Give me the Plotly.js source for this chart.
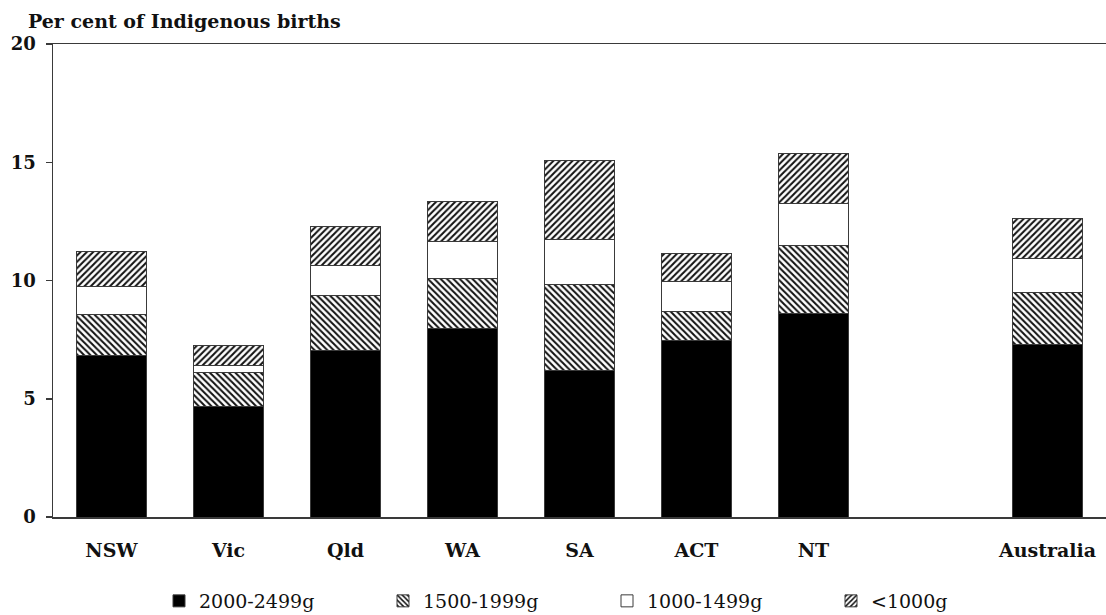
<!DOCTYPE html>
<html>
<head>
<meta charset="utf-8">
<script src="https://cdn.plot.ly/plotly-3.0.1.min.js"></script>
<style>html,body{margin:0;padding:0;background:#fff;}#chart{width:1106px;height:615px;}</style>
</head>
<body>
<div id="chart"></div>
<script>
// Data (per cent of Indigenous births)
var categories = ['NSW', 'Vic', 'Qld', 'WA', 'SA', 'ACT', 'NT', 'Australia'];
var axisCategories = ['NSW', 'Vic', 'Qld', 'WA', 'SA', 'ACT', 'NT', ' ', 'Australia'];
var w2000_2499 = [6.84, 4.66, 7.05, 7.97, 6.21, 7.45, 8.61, 7.30];
var w1500_1999 = [1.72, 1.43, 2.33, 2.12, 3.60, 1.25, 2.89, 2.20];
var w1000_1499 = [1.20, 0.33, 1.27, 1.55, 1.93, 1.25, 1.76, 1.44];
var wUnder1000 = [1.45, 0.85, 1.62, 1.69, 3.33, 1.20, 2.09, 1.69];
var seriesNames = ['2000-2499g', '1500-1999g', '1000-1499g', '<1000g'];
var yTicks = [0, 5, 10, 15, 20];

var serif = 'DejaVu Serif, Liberation Serif, serif';
var lineCol = '#3a3a3a';

function barTrace(name, vals, fill, pattern) {
  var m = {color: fill, line: {color: lineCol, width: 1}};
  if (pattern) m.pattern = {shape: pattern, fgcolor: '#111', bgcolor: '#fff', size: 4.5, solidity: 0.45};
  return {type: 'bar', name: name, x: categories, y: vals, marker: m};
}

var data = [
  barTrace(seriesNames[0], w2000_2499, '#000', null),
  barTrace(seriesNames[1], w1500_1999, '#fff', '\\'),
  barTrace(seriesNames[2], w1000_1499, '#fff', null),
  barTrace(seriesNames[3], wUnder1000, '#fff', '/')
];

var layout = {
  width: 1106, height: 615,
  margin: {l: 53, r: 0, t: 44, b: 98},
  paper_bgcolor: '#fff', plot_bgcolor: '#fff',
  barmode: 'stack', bargap: 0.4,
  title: {
    text: 'Per cent of Indigenous births',
    font: {family: serif, size: 19, color: '#111', weight: 'bold'},
    xref: 'container', yref: 'container',
    x: 28 / 1106, xanchor: 'left',
    y: 1 - 21 / 615, yanchor: 'middle'
  },
  xaxis: {
    type: 'category', categoryorder: 'array', categoryarray: axisCategories,
    range: [-0.5, axisCategories.length - 0.5],
    showline: true, linecolor: lineCol, linewidth: 1.5, mirror: true,
    showgrid: false, zeroline: false, ticks: '',
    ticklabelstandoff: 16,
    tickfont: {family: serif, size: 19, color: '#111', weight: 'bold'}
  },
  yaxis: {
    range: [0, 20], tickvals: yTicks, ticktext: yTicks.map(String),
    showline: true, linecolor: lineCol, linewidth: 1.5,
    showgrid: false, zeroline: false,
    ticks: 'outside', ticklen: 6, tickcolor: lineCol, tickwidth: 1.5,
    ticklabelstandoff: 6,
    tickfont: {family: serif, size: 18, color: '#111', weight: 'bold'}
  },
  showlegend: true,
  legend: {
    orientation: 'h', traceorder: 'normal',
    xref: 'container', yref: 'container',
    x: 159 / 1106, xanchor: 'left',
    y: 1 - 582 / 615, yanchor: 'top',
    entrywidth: 179, entrywidthmode: 'pixels',
    font: {family: serif, size: 19, color: '#111'},
    itemclick: false
  }
};

Plotly.newPlot('chart', data, layout, {displayModeBar: false, staticPlot: true});
</script>
</body>
</html>
